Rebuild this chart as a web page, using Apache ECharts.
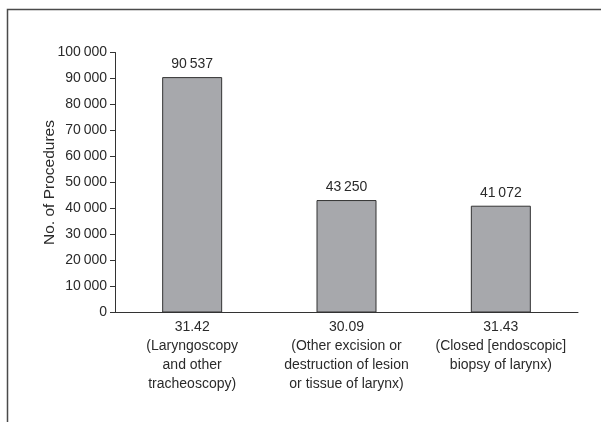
<!DOCTYPE html>
<html><head><meta charset="utf-8">
<script src="https://cdn.jsdelivr.net/npm/echarts@6/dist/echarts.min.js"></script>
<style>html,body{margin:0;padding:0;background:#fff}#c{width:601px;height:422px}</style>
</head><body><div id="c"></div>
<script>
const categories = [
  "31.42\n(Laryngoscopy\nand other\ntracheoscopy)",
  "30.09\n(Other excision or\ndestruction of lesion\nor tissue of larynx)",
  "31.43\n(Closed [endoscopic]\nbiopsy of larynx)"
];
const procedures = [90537, 43250, 41072];
const yTicks = { min: 0, max: 100000, interval: 10000 };
const yName = "No. of Procedures";

const FONT = '"Liberation Sans", Arial, sans-serif';
const fmt = v => String(v).replace(/\B(?=(\d{3})+(?!\d))/g, "\u2009");
const chart = echarts.init(document.getElementById('c'), null, {renderer: 'canvas'});
chart.setOption({
  animation: false,
  backgroundColor: '#fff',
  textStyle: { fontFamily: FONT },
  graphic: [{
    type: 'polyline',
    shape: { points: [[7.5, 440], [7.5, 9.5], [620, 9.5]] },
    style: { stroke: '#4a4a4a', lineWidth: 1.5, fill: null }
  }],
  grid: { left: 115, right: 23, top: 52.5, bottom: 109.5 },
  xAxis: {
    type: 'category',
    data: categories,
    axisLine: { lineStyle: { color: '#333', width: 1 } },
    axisTick: { show: false },
    axisLabel: { color: '#2a2a2a', fontSize: 14, lineHeight: 19, margin: 5, fontFamily: FONT, interval: 0 }
  },
  yAxis: {
    type: 'value',
    min: yTicks.min, max: yTicks.max, interval: yTicks.interval,
    name: yName, nameLocation: 'middle', nameGap: 57, nameRotate: 90,
    nameMoveOverlap: false,
    nameTextStyle: { color: '#2a2a2a', fontSize: 15.5, fontFamily: FONT },
    axisLine: { show: true, lineStyle: { color: '#333', width: 1 } },
    axisTick: { show: true, length: 5, lineStyle: { color: '#333' } },
    splitLine: { show: false },
    axisLabel: { color: '#2a2a2a', fontSize: 14, margin: 8, fontFamily: FONT, formatter: fmt }
  },
  series: [{
    type: 'bar',
    data: procedures,
    barWidth: 60,
    itemStyle: { color: '#a7a8ac', borderColor: '#333', borderWidth: 1 },
    label: { show: true, position: 'top', distance: 6, color: '#2a2a2a', fontSize: 14, fontFamily: FONT, formatter: p => fmt(p.value) }
  }]
});
</script></body></html>
